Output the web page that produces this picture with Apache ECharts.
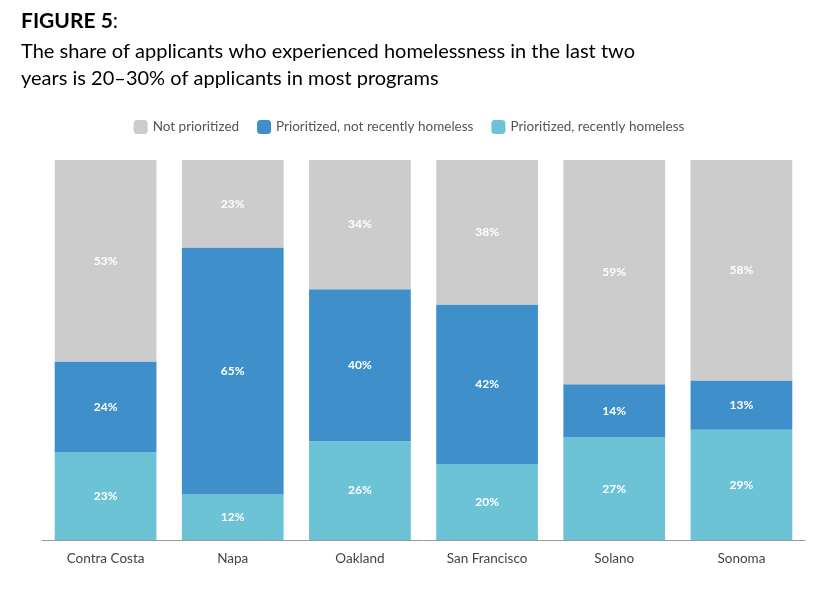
<!DOCTYPE html>
<html>
<head>
<meta charset="utf-8">
<script src="https://cdn.jsdelivr.net/npm/echarts@6/dist/echarts.min.js"></script>
<style>
  html, body { margin: 0; padding: 0; background: #fff; }
  #chart { width: 818px; height: 598px; }
</style>
</head>
<body>
<div id="chart"></div>
<script>
var categories = ['Contra Costa', 'Napa', 'Oakland', 'San Francisco', 'Solano', 'Sonoma'];
var recentlyHomeless = [23, 12, 26, 20, 27, 29];
var notRecentlyHomeless = [24, 65, 40, 42, 14, 13];
var notPrioritized = [53, 23, 34, 38, 59, 58];

var labelStyle = {
    show: true,
    position: 'inside',
    color: '#fff',
    fontWeight: 'bold',
    fontSize: 12,
    fontFamily: 'Lato',
    formatter: '{c}%'
};

var option = {
    textStyle: { fontFamily: 'Lato' },
    title: {
        text: '{b|FIGURE 5}:',
        subtext: 'The share of applicants who experienced homelessness in the last two\nyears is 20–30% of applicants in most programs',
        left: 16,
        top: 6,
        itemGap: 6,
        textStyle: {
            fontSize: 21, color: '#000', fontWeight: 'normal',
            rich: { b: { fontSize: 21, fontWeight: 'bold', color: '#000' } }
        },
        subtextStyle: { fontSize: 20, color: '#000', lineHeight: 27 }
    },
    legend: {
        top: 115,
        left: 'center',
        itemWidth: 14,
        itemHeight: 14,
        itemGap: 18,
        textStyle: { fontSize: 13.5, color: '#555' },
        data: ['Not prioritized', 'Prioritized, not recently homeless', 'Prioritized, recently homeless']
    },
    grid: { left: 42, right: 13, top: 160, bottom: 58 },
    xAxis: {
        type: 'category',
        data: categories,
        axisTick: { show: false },
        axisLine: { lineStyle: { color: '#999' } },
        axisLabel: { fontSize: 13.5, color: '#444', margin: 12 }
    },
    yAxis: { type: 'value', min: 0, max: 100, show: false },
    series: [
        { name: 'Prioritized, recently homeless', type: 'bar', stack: 't', data: recentlyHomeless,
          barCategoryGap: '20%', itemStyle: { color: '#6cc3d6' }, label: labelStyle },
        { name: 'Prioritized, not recently homeless', type: 'bar', stack: 't', data: notRecentlyHomeless,
          itemStyle: { color: '#3f8fcb' }, label: labelStyle },
        { name: 'Not prioritized', type: 'bar', stack: 't', data: notPrioritized,
          itemStyle: { color: '#cccccc' }, label: labelStyle }
    ]
};

var ec = echarts.init(document.getElementById('chart'));
ec.setOption(option);
</script>
</body>
</html>
